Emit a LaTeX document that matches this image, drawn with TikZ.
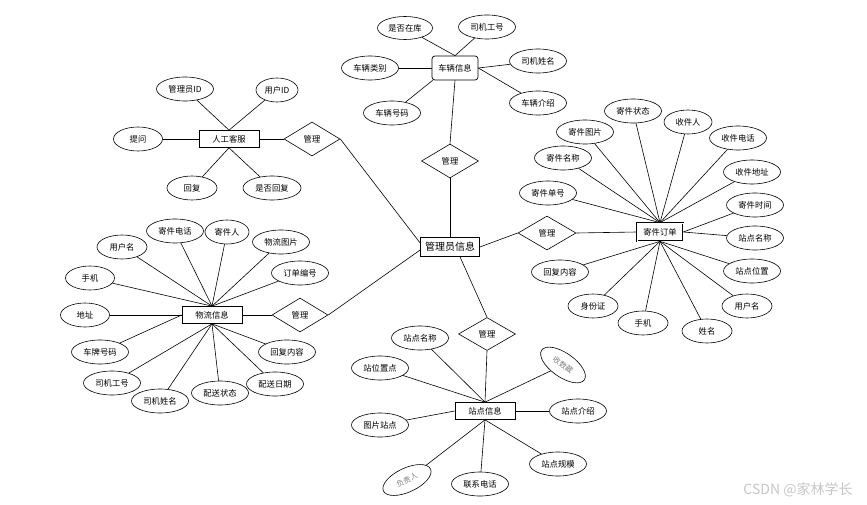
\documentclass[tikz,border=0pt]{standalone}
\usepackage{fontspec}
\setmainfont{Noto Sans CJK SC}
\usetikzlibrary{shapes.geometric}
\begin{document}
\begin{tikzpicture}[x=1pt,y=-1pt,
  ln/.style={draw, line width=0.6pt},
  attr/.style={ellipse, draw, line width=0.6pt, minimum width=57pt, minimum height=24pt, inner sep=0pt, font=\fontsize{8.3}{9}\selectfont},
  sattr/.style={attr, minimum width=49pt},
  ent/.style={rectangle, draw, line width=0.7pt, minimum width=60pt, minimum height=17pt, inner sep=0pt, font=\fontsize{8.3}{9}\selectfont},
  rel/.style={diamond, draw, line width=0.6pt, minimum width=57pt, minimum height=34pt, inner sep=0pt, font=\fontsize{8.3}{9}\selectfont},
  tilted/.style={attr, minimum width=52pt, text=gray, font=\fontsize{7.5}{8}\selectfont}
]
\useasboundingbox (0,0) rectangle (867,505);

% ---- vehicle cluster
\node[ent, rounded corners=3pt, minimum width=46pt, minimum height=24pt] (veh) at (455,68) {车辆信息};
\node[attr, minimum width=55pt, minimum height=23pt] (v1) at (405,28) {是否在库};
\node[attr] (v2) at (487,27) {司机工号};
\node[attr] (v3) at (370,68) {车辆类别};
\node[attr] (v4) at (538,61) {司机姓名};
\node[attr] (v5) at (538,103) {车辆介绍};
\node[attr] (v6) at (392,113) {车辆号码};
\node[rel] (dA) at (450,161) {管理};

% ---- admin
\node[ent, minimum width=59pt, minimum height=19pt, font=\fontsize{10}{11}\selectfont] (adm) at (450,247) {管理员信息};

% ---- customer service cluster
\node[ent] (cs) at (229,139) {人工客服};
\node[attr] (c1) at (185,89) {管理员ID};
\node[attr, minimum width=42pt] (c2) at (277,90) {用户ID};
\node[sattr] (c3) at (138,139) {提问};
\node[sattr, minimum width=50pt] (c4) at (192,188) {回复};
\node[attr, minimum width=58pt] (c5) at (272,188) {是否回复};
\node[rel, minimum width=56pt] (dB) at (312,139) {管理};

% ---- logistics cluster
\node[ent] (wl) at (212,315) {物流信息};
\node[attr] (w1) at (175,231) {寄件电话};
\node[attr, minimum width=44pt] (w2) at (227,232) {寄件人};
\node[attr] (w3) at (281,242) {物流图片};
\node[sattr, minimum width=50pt] (w4) at (122,247) {用户名};
\node[attr] (w5) at (300,273) {订单编号};
\node[sattr] (w6) at (90,278) {手机};
\node[sattr] (w7) at (85,315) {地址};
\node[attr] (w8) at (100,352) {车牌号码};
\node[attr] (w9) at (287,352) {回复内容};
\node[attr] (w10) at (112,383) {司机工号};
\node[attr] (w11) at (275,384) {配送日期};
\node[attr] (w12) at (220,393) {配送状态};
\node[attr] (w13) at (160,401) {司机姓名};
\node[rel, minimum width=56pt] (dC) at (300,315) {管理};

% ---- order cluster
\node[ent, minimum width=46pt, minimum height=18pt, double, double distance=0.4pt] (od) at (660,232) {寄件订单};
\node[attr] (o1) at (633,111) {寄件状态};
\node[attr, minimum width=48pt] (o2) at (688,122) {收件人};
\node[attr] (o3) at (585,132) {寄件图片};
\node[attr] (o4) at (738,138) {收件电话};
\node[attr] (o5) at (563,158) {寄件名称};
\node[attr] (o6) at (752,172) {收件地址};
\node[attr] (o7) at (548,193) {寄件单号};
\node[attr] (o8) at (755,205) {寄件时间};
\node[attr] (o9) at (755,238) {站点名称};
\node[attr] (o10) at (752,271) {站点位置};
\node[attr] (o11) at (560,272) {回复内容};
\node[sattr, minimum width=50pt] (o12) at (593,306) {身份证};
\node[sattr, minimum width=50pt] (o13) at (747,306) {用户名};
\node[sattr, minimum width=50pt] (o14) at (643,323) {手机};
\node[sattr, minimum width=50pt] (o15) at (707,331) {姓名};
\node[rel, minimum width=58pt] (dD) at (547,233) {管理};

% ---- station cluster
\node[ent] (st) at (485,411) {站点信息};
\node[rel, minimum height=33pt] (dE) at (487,334) {管理};
\node[attr] (s1) at (420,338) {站点名称};
\node[attr] (s2) at (380,368) {站位置点};
\node[tilted, rotate=-35] (s3) at (563,365) {收数藏};
\node[attr] (s4) at (578,411) {站点介绍};
\node[attr] (s5) at (380,425) {图片站点};
\node[attr] (s6) at (558,464) {站点规模};
\node[tilted, rotate=25] (s7) at (407,480) {负责人};
\node[attr] (s8) at (480,484) {联系电话};

% ---- watermark
\node[font=\fontsize{14}{15}\selectfont, text=gray!45, inner sep=0pt] (wm) at (798,490) {CSDN @家林学长};

% ---- connectors: vehicle
\draw[ln] (v1) -- (veh.north);
\draw[ln] (v2) -- (veh.north);
\draw[ln] (v3) -- (veh.west);
\draw[ln] (v4) -- (veh.east);
\draw[ln] (v5) -- (veh.east);
\draw[ln] (v6) -- ([xshift=1pt]veh.south west);
\draw[ln] (veh.south) -- (dA.north);
\draw[ln] (dA.south) -- (adm.north);

% ---- connectors: admin
\draw[ln] (dB.east) -- ([yshift=4pt]adm.west);
\draw[ln] (dC.east) -- ([yshift=-3pt]adm.west);
\draw[ln] ([xshift=10pt]adm.south) -- (dE.north);
\draw[ln] (adm.east) -- (dD.west);

% ---- connectors: customer service
\draw[ln] (c1) -- (cs.north);
\draw[ln] (c2) -- (cs.north);
\draw[ln] (c3) -- (cs.west);
\draw[ln] (c4) -- (cs.south);
\draw[ln] (c5) -- (cs.south);
\draw[ln] (cs.east) -- (dB.west);

% ---- connectors: logistics
\foreach \n in {w1,w2,w3,w4,w5,w6} \draw[ln] (\n) -- (wl.north);
\draw[ln] (w7) -- (wl.west);
\draw[ln] (w8) -- (wl.west);
\foreach \n in {w9,w10,w11,w12,w13} \draw[ln] (\n) -- (wl.south);
\draw[ln] (wl.east) -- (dC.west);

% ---- connectors: order
\foreach \n in {o1,o2,o3,o4,o5,o6,o7} \draw[ln] (\n) -- (od.north);
\draw[ln] (o8) -- (od.east);
\draw[ln] (o9) -- (od.east);
\foreach \n in {o10,o11,o12,o13,o14,o15} \draw[ln] (\n) -- (od.south);
\draw[ln] (dD.east) -- (od.west);

% ---- connectors: station
\foreach \n in {s1,s2,s3} \draw[ln] (\n) -- (st.north);
\draw[ln] (dE.south) -- (st.north);
\draw[ln] (s4) -- (st.east);
\draw[ln] (s5) -- (st.west);
\foreach \n in {s6,s7,s8} \draw[ln] (\n) -- (st.south);
\end{tikzpicture}
\end{document}
